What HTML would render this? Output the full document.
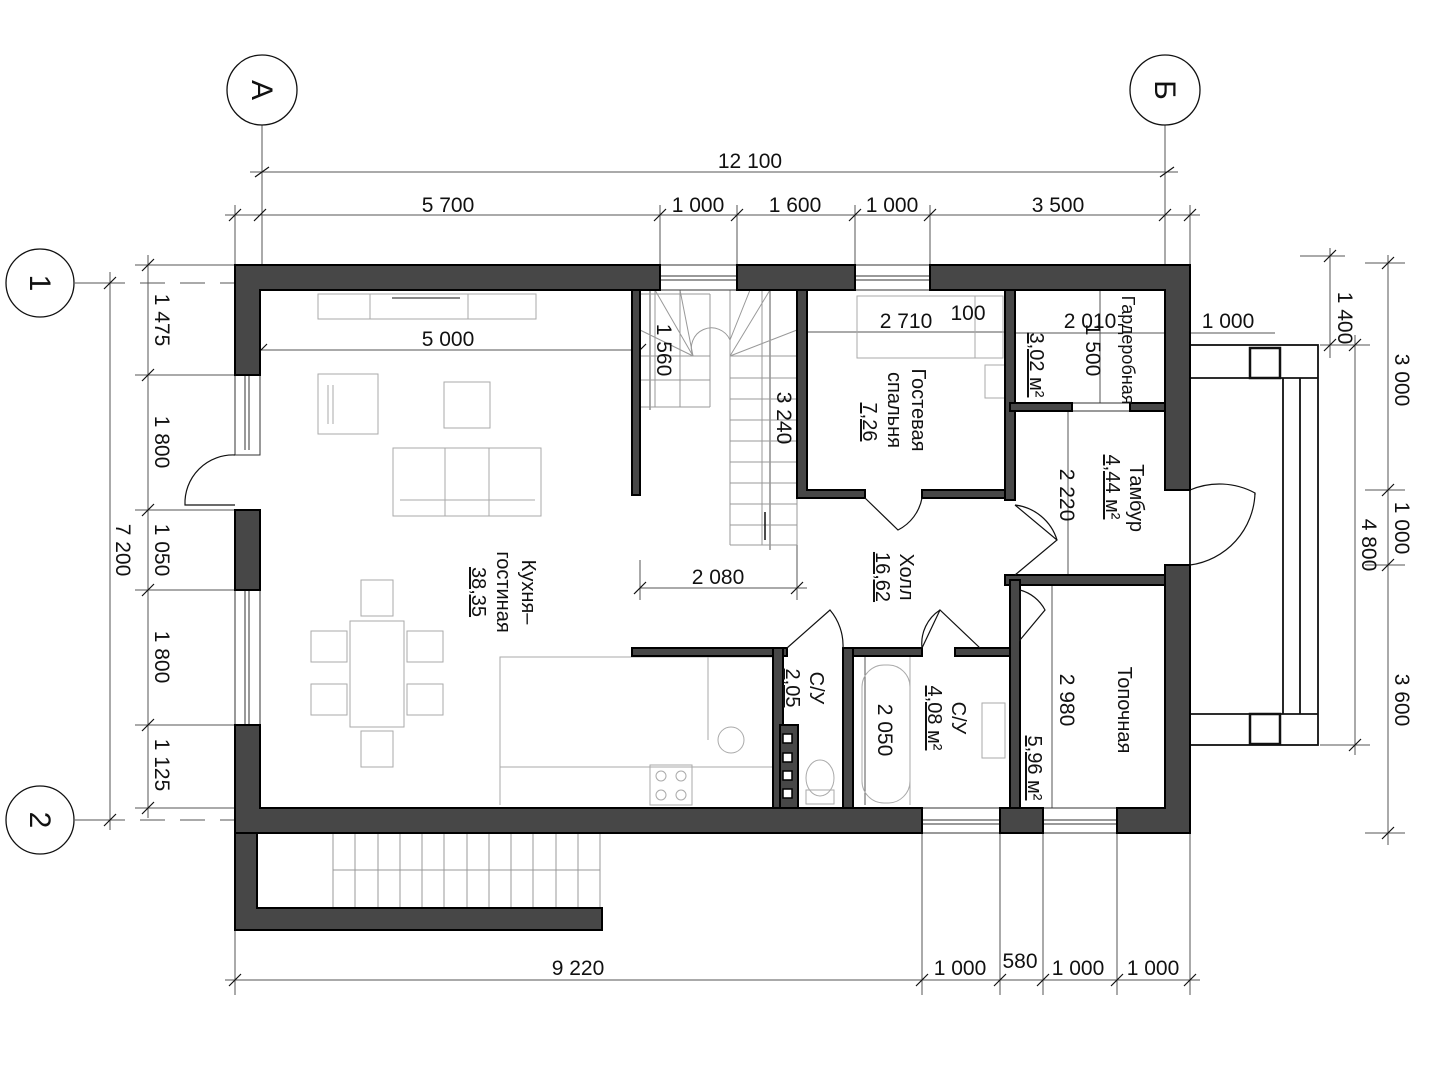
<!DOCTYPE html>
<html><head><meta charset="utf-8"><style>
html,body{margin:0;padding:0;background:#fff}
svg{display:block}
text{font-family:"Liberation Sans","DejaVu Sans",sans-serif;fill:#111}
</style></head><body>
<svg width="1440" height="1080" viewBox="0 0 1440 1080" xmlns="http://www.w3.org/2000/svg">
<g stroke="#555" stroke-width="1" fill="none">
<line x1="262" y1="125" x2="262" y2="265"/><line x1="1165" y1="125" x2="1165" y2="265"/>
<line x1="250" y1="172" x2="1178" y2="172"/>
<line x1="225" y1="215" x2="1200" y2="215"/>
<line x1="235" y1="205" x2="235" y2="265"/><line x1="660" y1="205" x2="660" y2="265"/><line x1="737" y1="205" x2="737" y2="265"/><line x1="855" y1="205" x2="855" y2="265"/><line x1="930" y1="205" x2="930" y2="265"/><line x1="1190" y1="205" x2="1190" y2="265"/>
<line x1="148" y1="255" x2="148" y2="818"/>
<line x1="110" y1="272" x2="110" y2="830"/>
<line x1="135" y1="265" x2="235" y2="265"/><line x1="135" y1="375" x2="235" y2="375"/><line x1="135" y1="510" x2="235" y2="510"/><line x1="135" y1="590" x2="235" y2="590"/><line x1="135" y1="725" x2="235" y2="725"/><line x1="135" y1="808" x2="235" y2="808"/>
<line x1="75" y1="283" x2="100" y2="283"/><line x1="75" y1="820" x2="100" y2="820"/>
<line x1="100" y1="283" x2="310" y2="283" stroke-dasharray="25,15"/>
<line x1="100" y1="820" x2="320" y2="820" stroke-dasharray="25,15"/>
<line x1="225" y1="980" x2="1200" y2="980"/>
<line x1="235" y1="930" x2="235" y2="995"/><line x1="922" y1="833" x2="922" y2="995"/><line x1="1000" y1="833" x2="1000" y2="995"/><line x1="1043" y1="833" x2="1043" y2="995"/><line x1="1117" y1="833" x2="1117" y2="995"/><line x1="1190" y1="833" x2="1190" y2="995"/>
<line x1="1388" y1="255" x2="1388" y2="845"/>
<line x1="1355" y1="335" x2="1355" y2="755"/>
<line x1="1330" y1="248" x2="1330" y2="358"/>
<line x1="1300" y1="256" x2="1345" y2="256"/><line x1="1320" y1="345" x2="1370" y2="345"/><line x1="1320" y1="745" x2="1370" y2="745"/>
<line x1="1365" y1="263" x2="1405" y2="263"/><line x1="1365" y1="490" x2="1405" y2="490"/><line x1="1365" y1="565" x2="1405" y2="565"/><line x1="1365" y1="833" x2="1405" y2="833"/>
<line x1="1160" y1="333" x2="1275" y2="333"/>
<line x1="255" y1="350" x2="640" y2="350"/>
<line x1="640" y1="588" x2="807" y2="588"/>
<line x1="640" y1="560" x2="640" y2="600"/><line x1="797" y1="500" x2="797" y2="600"/>
<line x1="800" y1="332" x2="1010" y2="332"/>
<line x1="1010" y1="333" x2="1190" y2="333"/>
<line x1="1100" y1="290" x2="1100" y2="410"/>
<line x1="770" y1="290" x2="770" y2="550"/>
<line x1="650" y1="290" x2="650" y2="410"/>
<line x1="1068" y1="410" x2="1068" y2="585"/>
<line x1="1052" y1="585" x2="1052" y2="810"/>
<line x1="865" y1="656" x2="865" y2="805"/>
</g>
<g stroke="#111" stroke-width="1.2">
<path d="M255 177l14-10M1160 177l14-10M229 221l12-12M254 221l12-12M654 221l12-12M731 221l12-12M849 221l12-12M924 221l12-12M1159 221l12-12M1184 221l12-12"/>
<path d="M142 271l12-12M142 381l12-12M142 516l12-12M142 596l12-12M142 731l12-12M142 814l12-12M104 289l12-12M104 826l12-12"/>
<path d="M229 986l12-12M916 986l12-12M994 986l12-12M1037 986l12-12M1111 986l12-12M1184 986l12-12"/>
<path d="M1382 269l12-12M1382 496l12-12M1382 571l12-12M1382 839l12-12M1349 351l12-12M1349 751l12-12M1324 262l12-12M1324 351l12-12"/>
<path d="M255 356l12-12M634 356l12-12M634 594l12-12M791 594l12-12"/>
</g>
<g stroke="#111" stroke-width="1.3" fill="#fff">
<circle cx="262" cy="90" r="35"/><circle cx="1165" cy="90" r="35"/>
<circle cx="40" cy="283" r="34"/><circle cx="40" cy="820" r="34"/>
</g>
<g font-size="30">
<text transform="translate(262,90) rotate(90)" text-anchor="middle" dy="10">А</text>
<text transform="translate(1165,90) rotate(90)" text-anchor="middle" dy="10">Б</text>
<text transform="translate(40,283) rotate(90)" text-anchor="middle" dy="10">1</text>
<text transform="translate(40,820) rotate(90)" text-anchor="middle" dy="10">2</text>
</g>
<g stroke="#aaa" stroke-width="1" fill="none">
<rect x="318" y="294" width="218" height="25"/><line x1="370" y1="294" x2="370" y2="319"/><line x1="468" y1="294" x2="468" y2="319"/>
<line x1="392" y1="298" x2="460" y2="298" stroke="#888" stroke-width="2"/>
<rect x="318" y="374" width="60" height="60"/><line x1="328" y1="385" x2="328" y2="424"/><line x1="333" y1="385" x2="333" y2="424"/>
<rect x="444" y="382" width="46" height="46"/>
<rect x="393" y="448" width="148" height="68"/><line x1="445" y1="448" x2="445" y2="516"/><line x1="489" y1="448" x2="489" y2="516"/><line x1="400" y1="500" x2="535" y2="500"/>
<rect x="350" y="621" width="54" height="106"/>
<rect x="361" y="580" width="32" height="36"/><rect x="361" y="731" width="32" height="36"/>
<rect x="311" y="631" width="36" height="31"/><rect x="311" y="684" width="36" height="31"/>
<rect x="407" y="631" width="36" height="31"/><rect x="407" y="684" width="36" height="31"/>
<rect x="500" y="657" width="273" height="110"/><line x1="500" y1="767" x2="500" y2="805"/>
<line x1="708" y1="657" x2="708" y2="740"/>
<circle cx="731" cy="740" r="13"/>
<rect x="650" y="765" width="42" height="40"/><circle cx="661" cy="776" r="5"/><circle cx="681" cy="776" r="5"/><circle cx="661" cy="795" r="5"/><circle cx="681" cy="795" r="5"/>
<rect x="857" y="296" width="146" height="62"/><line x1="975" y1="296" x2="975" y2="358"/><rect x="985" y="365" width="20" height="33"/>
<rect x="862" y="665" width="48" height="138" rx="22"/><line x1="910" y1="656" x2="910" y2="805"/>
<rect x="982" y="703" width="23" height="55"/>
<ellipse cx="820" cy="778" rx="14" ry="18"/><rect x="806" y="790" width="28" height="14"/>
<g stroke="#999">
<line x1="640" y1="294" x2="710" y2="294"/><line x1="640" y1="407" x2="710" y2="407"/><line x1="710" y1="294" x2="710" y2="407"/>
<line x1="640" y1="356" x2="710" y2="356"/><line x1="640" y1="380" x2="710" y2="380"/>
<line x1="655" y1="290" x2="655" y2="407"/><line x1="680" y1="290" x2="680" y2="407"/>
<line x1="655" y1="290" x2="693" y2="356"/><line x1="680" y1="290" x2="693" y2="356"/><line x1="640" y1="330" x2="693" y2="356"/>
<path d="M693 356 A20 20 0 0 1 730 340"/>
<line x1="730" y1="290" x2="730" y2="545"/><line x1="797" y1="290" x2="797" y2="545"/><line x1="730" y1="545" x2="797" y2="545"/>
<line x1="730" y1="356" x2="797" y2="356"/>
<path d="M730 356 L770 290 M730 356 L797 330 M730 340 L750 290"/>
<path d="M730 378H797M730 399H797M730 420H797M730 441H797M730 462H797M730 483H797M730 504H797M730 525H797"/>
<line x1="762" y1="290" x2="762" y2="545"/>
<path d="M333 833V908M355 833V908M378 833V908M400 833V908M422 833V908M444 833V908M467 833V908M489 833V908M511 833V908M533 833V908M556 833V908M578 833V908M600 833V908"/>
<line x1="333" y1="870" x2="600" y2="870"/>
</g>
</g>
<line x1="765" y1="512" x2="765" y2="540" stroke="#111" stroke-width="1.5"/>
<g stroke="#333" stroke-width="1" fill="#fff">
<rect x="660" y="265" width="77" height="25"/><line x1="660" y1="276" x2="737" y2="276"/><line x1="660" y1="280" x2="737" y2="280"/>
<rect x="855" y="265" width="75" height="25"/><line x1="855" y1="276" x2="930" y2="276"/><line x1="855" y1="280" x2="930" y2="280"/>
<rect x="235" y="375" width="25" height="80"/><line x1="245" y1="375" x2="245" y2="450"/><line x1="249" y1="375" x2="249" y2="450"/>
<rect x="235" y="590" width="25" height="135"/><line x1="245" y1="590" x2="245" y2="725"/><line x1="249" y1="590" x2="249" y2="725"/>
<rect x="922" y="808" width="78" height="25"/><line x1="922" y1="820" x2="1000" y2="820"/><line x1="922" y1="824" x2="1000" y2="824"/>
<rect x="1043" y="808" width="74" height="25"/><line x1="1043" y1="820" x2="1117" y2="820"/><line x1="1043" y1="824" x2="1117" y2="824"/>
<rect x="1072" y="403" width="58" height="8"/>
</g>
<g stroke="#111" stroke-width="1.8" fill="none">
<rect x="1190" y="345" width="128" height="400"/>
<line x1="1190" y1="378" x2="1318" y2="378"/><line x1="1190" y1="714" x2="1318" y2="714"/>
<line x1="1283" y1="378" x2="1283" y2="714"/><line x1="1300" y1="378" x2="1300" y2="714"/>
<rect x="1250" y="348" width="30" height="30" stroke-width="2.5"/><rect x="1250" y="714" width="30" height="30" stroke-width="2.5"/>
</g>
<g fill="#474747" stroke="#000" stroke-width="2">
<path d="M235 265H660V290H260V375H235Z"/>
<rect x="737" y="265" width="118" height="25"/>
<path d="M930 265H1190V490H1165V290H930Z"/>
<rect x="235" y="510" width="25" height="80"/>
<path d="M235 725H260V808H922V833H235Z"/>
<rect x="1000" y="808" width="43" height="25"/>
<path d="M1165 565H1190V833H1117V808H1165Z"/>
<path d="M235 833H257V908H602V930H235Z"/>
<rect x="632" y="290" width="8" height="205"/>
<path d="M797 290H807V490H865V498H797Z"/>
<rect x="922" y="490" width="88" height="8"/>
<rect x="1005" y="290" width="10" height="210"/>
<rect x="1010" y="403" width="62" height="8"/><rect x="1130" y="403" width="35" height="8"/>
<rect x="1005" y="575" width="160" height="10"/>
<rect x="1010" y="580" width="10" height="228"/>
<rect x="632" y="648" width="155" height="8"/>
<rect x="848" y="648" width="74" height="8"/><rect x="955" y="648" width="55" height="8"/>
<rect x="773" y="648" width="10" height="160"/>
<rect x="843" y="648" width="10" height="160"/>
<rect x="780" y="725" width="18" height="83"/>
</g>
<g fill="#fff" stroke="#000" stroke-width="1.5"><rect x="783" y="734" width="9" height="9"/><rect x="783" y="753" width="9" height="9"/><rect x="783" y="771" width="9" height="9"/><rect x="783" y="789" width="9" height="9"/></g>
<g stroke="#111" stroke-width="1.2" fill="none">
<path d="M235 455 A48 48 0 0 0 185 505 H235"/>
<path d="M1190 490 A75 75 0 0 1 1255 493 V495"/><path d="M1190 565 A75 75 0 0 0 1255 493"/>
<path d="M865 498 L898 530 A45 45 0 0 0 922 498"/>
<path d="M1015 505 L1057 540 L1015 575 M1015 505 A50 50 0 0 1 1057 540"/>
<path d="M787 648 L830 610 A55 55 0 0 1 843 648"/>
<path d="M922 648 L940 610 L980 648 M940 610 A40 40 0 0 0 922 648"/>
<path d="M1020 590 L1020 640 L1045 610 A40 40 0 0 0 1020 590"/>
</g>
<g font-size="21">
<text x="750" y="168" text-anchor="middle">12 100</text>
<text x="448" y="212" text-anchor="middle">5 700</text>
<text x="698" y="212" text-anchor="middle">1 000</text>
<text x="795" y="212" text-anchor="middle">1 600</text>
<text x="892" y="212" text-anchor="middle">1 000</text>
<text x="1058" y="212" text-anchor="middle">3 500</text>
<text x="448" y="346" text-anchor="middle">5 000</text>
<text x="718" y="584" text-anchor="middle">2 080</text>
<text x="906" y="328" text-anchor="middle">2 710</text>
<text x="968" y="320" text-anchor="middle">100</text>
<text x="1090" y="328" text-anchor="middle">2 010</text>
<text x="1228" y="328" text-anchor="middle">1 000</text>
<text x="578" y="975" text-anchor="middle">9 220</text>
<text x="960" y="975" text-anchor="middle">1 000</text>
<text x="1020" y="968" text-anchor="middle">580</text>
<text x="1078" y="975" text-anchor="middle">1 000</text>
<text x="1153" y="975" text-anchor="middle">1 000</text>
</g>
<g font-size="21" text-anchor="middle">
<text transform="translate(155,320) rotate(90)">1 475</text>
<text transform="translate(155,442) rotate(90)">1 800</text>
<text transform="translate(155,550) rotate(90)">1 050</text>
<text transform="translate(155,657) rotate(90)">1 800</text>
<text transform="translate(155,765) rotate(90)">1 125</text>
<text transform="translate(116,550) rotate(90)">7 200</text>
<text transform="translate(1395,380) rotate(90)">3 000</text>
<text transform="translate(1395,528) rotate(90)">1 000</text>
<text transform="translate(1395,700) rotate(90)">3 600</text>
<text transform="translate(1362,545) rotate(90)">4 800</text>
<text transform="translate(1338,318) rotate(90)">1 400</text>
<text transform="translate(657,350) rotate(90)">1 560</text>
<text transform="translate(777,418) rotate(90)">3 240</text>
<text transform="translate(1086,350) rotate(90)">1 500</text>
<text transform="translate(1060,495) rotate(90)">2 220</text>
<text transform="translate(1060,700) rotate(90)">2 980</text>
<text transform="translate(878,730) rotate(90)">2 050</text>
</g>
<g font-size="20" text-anchor="middle">
<text transform="translate(522,592) rotate(90)">Кухня–</text>
<text transform="translate(497,592) rotate(90)">гостиная</text>
<text transform="translate(472,592) rotate(90)" text-decoration="underline">38,35</text>
<text transform="translate(912,410) rotate(90)">Гостевая</text>
<text transform="translate(888,410) rotate(90)">спальня</text>
<text transform="translate(863,422) rotate(90)" text-decoration="underline">7,26</text>
<text transform="translate(1030,365) rotate(90)" text-decoration="underline">3,02 м²</text>
<text transform="translate(1122,350) rotate(90)" font-size="18">Гардеробная</text>
<text transform="translate(1130,498) rotate(90)">Тамбур</text>
<text transform="translate(1106,487) rotate(90)" text-decoration="underline">4,44 м²</text>
<text transform="translate(900,577) rotate(90)">Холл</text>
<text transform="translate(876,577) rotate(90)" text-decoration="underline">16,62</text>
<text transform="translate(810,688) rotate(90)">С/У</text>
<text transform="translate(786,688) rotate(90)" text-decoration="underline">2,05</text>
<text transform="translate(952,718) rotate(90)">С/У</text>
<text transform="translate(928,718) rotate(90)" text-decoration="underline">4,08 м²</text>
<text transform="translate(1118,710) rotate(90)">Топочная</text>
<text transform="translate(1028,768) rotate(90)" text-decoration="underline">5,96 м²</text>
</g>
</svg>
</body></html>
